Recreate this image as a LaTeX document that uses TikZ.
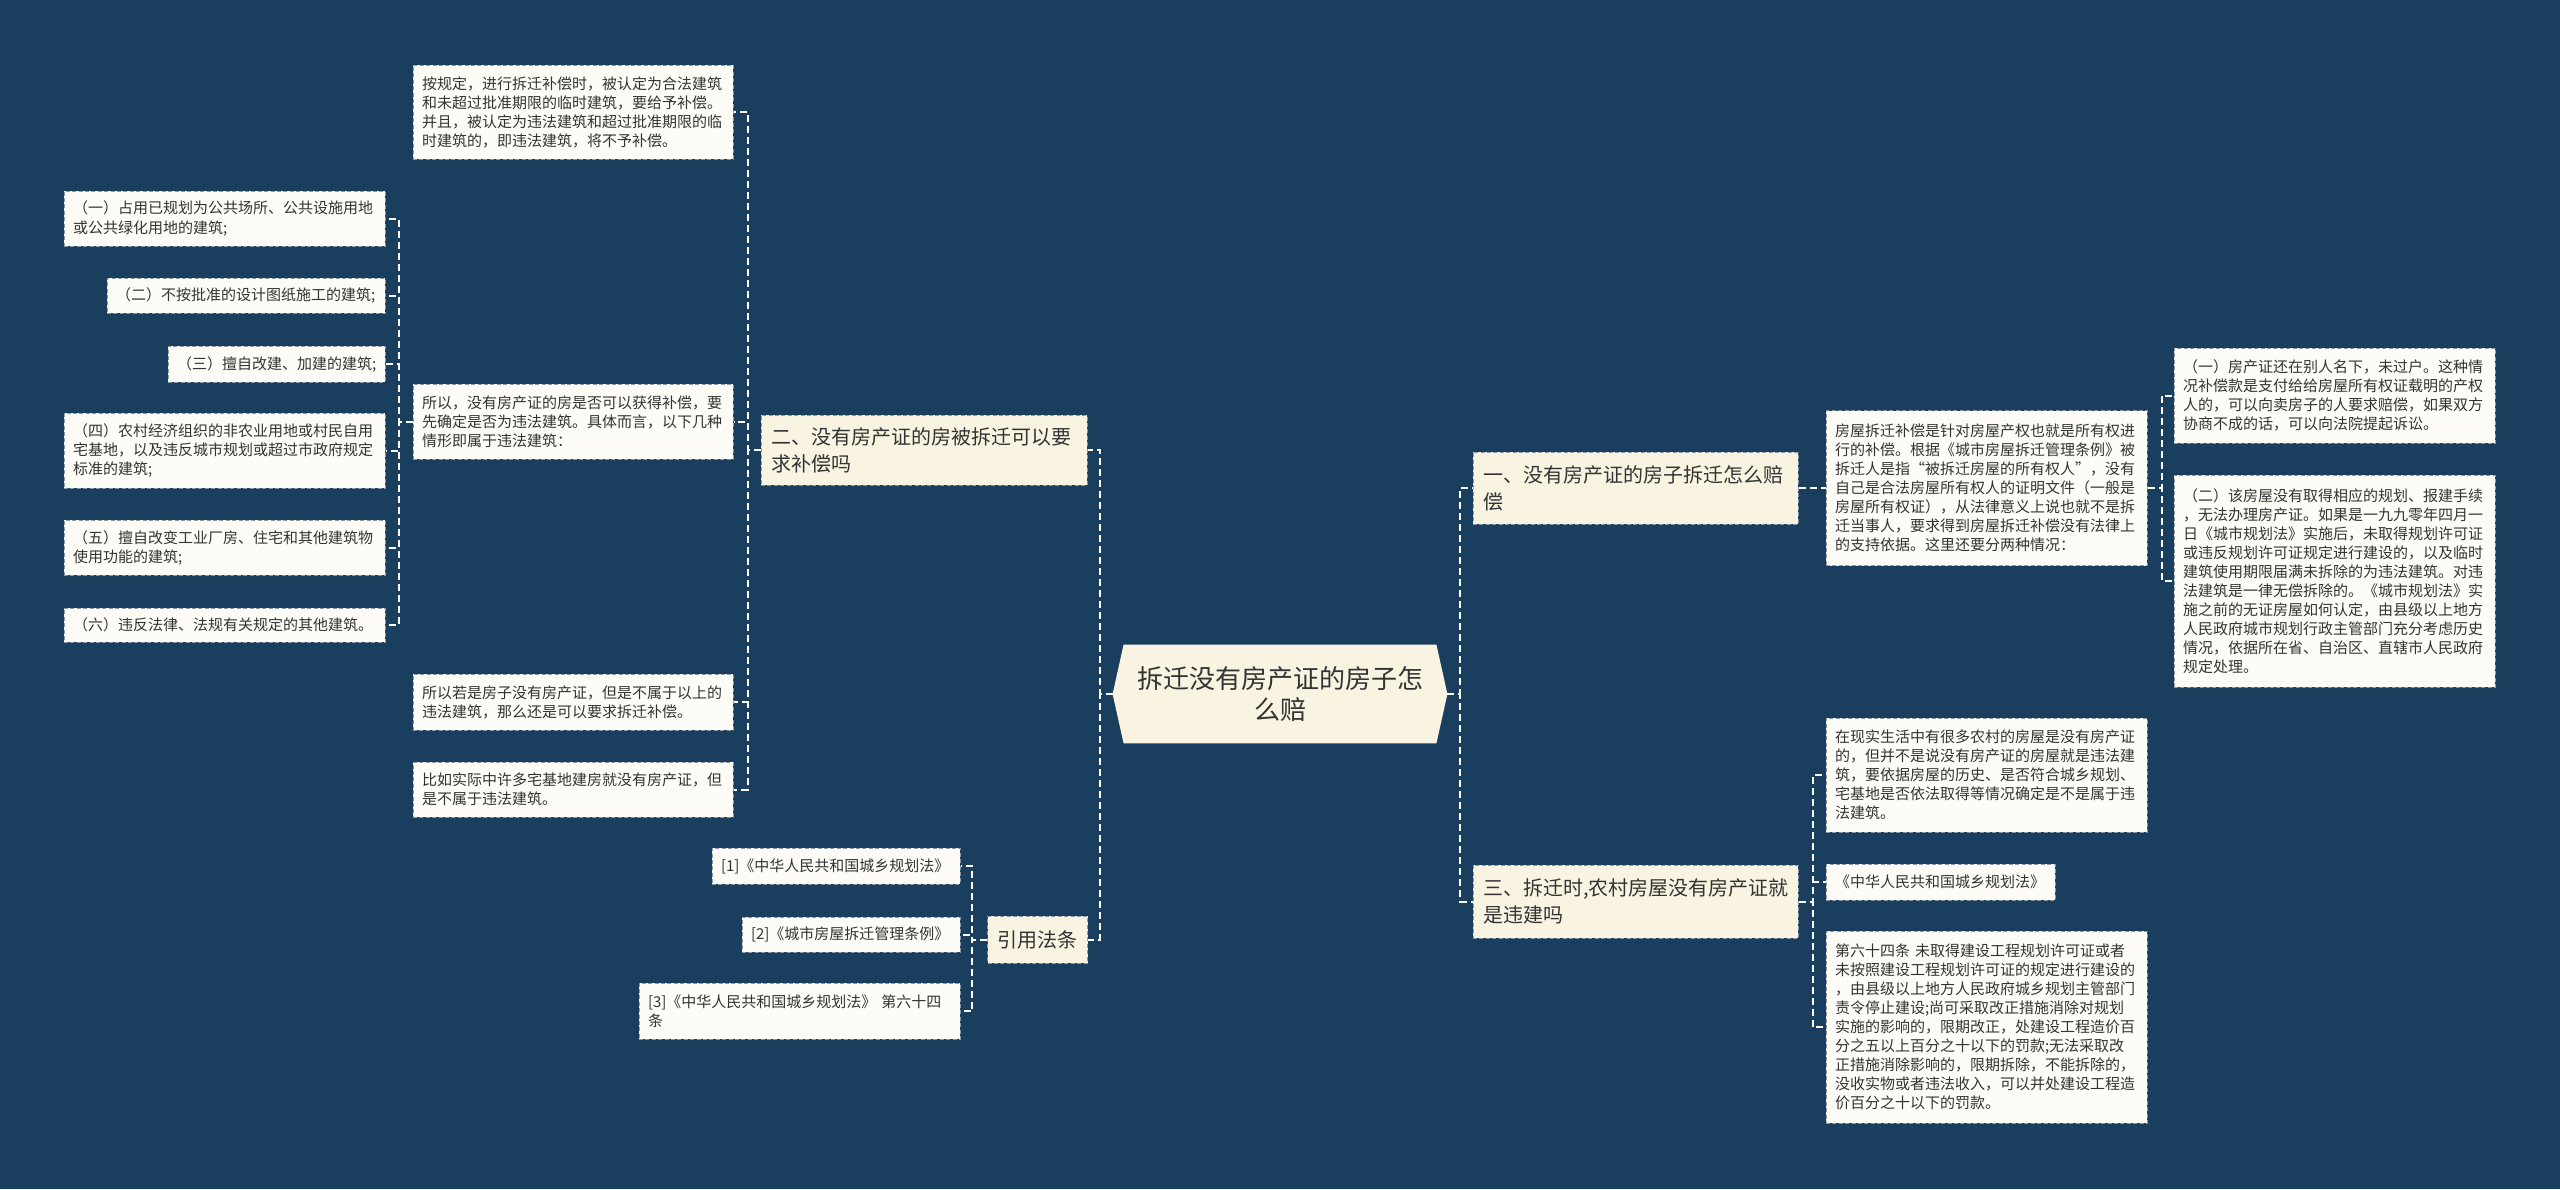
\documentclass[tikz,border=0pt]{standalone}
\usepackage{fontspec}
\setmainfont{Noto Sans CJK SC}
\usetikzlibrary{backgrounds}
\definecolor{bgc}{HTML}{1A3E5E}
\definecolor{leaff}{HTML}{FDFCF6}
\definecolor{branchf}{HTML}{F8F4E1}
\definecolor{txt}{HTML}{333333}
\definecolor{edgec}{HTML}{8C98A6}
\tikzset{
  conn/.style={draw=white, line width=1pt, dash pattern=on 3.5pt off 2pt},
  leaf/.style={fill=leaff, draw=edgec, line width=0.5pt, dash pattern=on 2pt off 1.2pt,
    text=txt, inner xsep=4.5pt, inner ysep=0pt, align=left,
    font=\fontsize{7.5pt}{9.5pt}\selectfont},
  branch/.style={leaf, fill=branchf, inner xsep=5pt, font=\fontsize{10pt}{13.5pt}\selectfont},
}
\begin{document}
\begin{tikzpicture}[x=0.5pt, y=-0.5pt]
\useasboundingbox (0,0) rectangle (2560,1189);
\begin{pgfonlayer}{background}
\fill[bgc] (0,0) rectangle (2560,1189);
\end{pgfonlayer}

% center
\node[text=txt, align=center, minimum width=167pt, minimum height=49pt, inner sep=0pt,
  font=\fontsize{13pt}{15.5pt}\selectfont] (c) at (1280,694) {拆迁没有房产证的房子怎\\么赔};
\begin{pgfonlayer}{background}
\fill[branchf] ([xshift=5.5pt]c.north west) -- ([xshift=-5.5pt]c.north east) -- (c.east)
  -- ([xshift=-5.5pt]c.south east) -- ([xshift=5.5pt]c.south west) -- (c.west) -- cycle;
\end{pgfonlayer}

% left branches
\node[branch, minimum width=163pt, minimum height=35pt, text width=153pt] (b2) at (924,450)
  {二、没有房产证的房被拆迁可以要\\求补偿吗};
\node[branch, minimum width=49.5pt, minimum height=23.5pt, align=center] (b4) at (1037.5,939.5)
  {引用法条};

\node[leaf, minimum width=160pt, minimum height=47pt, text width=151pt] (a1) at (573,112)
  {按规定，进行拆迁补偿时，被认定为合法建筑\\和未超过批准期限的临时建筑，要给予补偿。\\并且，被认定为违法建筑和超过批准期限的临\\时建筑的，即违法建筑，将不予补偿。};
\node[leaf, minimum width=160pt, minimum height=37.5pt, text width=151pt] (a2) at (573,421.5)
  {所以，没有房产证的房是否可以获得补偿，要\\先确定是否为违法建筑。具体而言，以下几种\\情形即属于违法建筑：};
\node[leaf, minimum width=160pt, minimum height=28pt, text width=151pt] (a3) at (573,702)
  {所以若是房子没有房产证，但是不属于以上的\\违法建筑，那么还是可以要求拆迁补偿。};
\node[leaf, minimum width=160pt, minimum height=27.5pt, text width=151pt] (a4) at (573,789.5)
  {比如实际中许多宅基地建房就没有房产证，但\\是不属于违法建筑。};

\node[leaf, minimum width=160.5pt, minimum height=27.5pt, text width=151.5pt] (l1) at (224.5,218.5)
  {（一）占用已规划为公共场所、公共设施用地\\或公共绿化用地的建筑;};
\node[leaf, minimum width=139pt, minimum height=17.5pt, text width=130pt] (l2) at (246,295.5)
  {（二）不按批准的设计图纸施工的建筑;};
\node[leaf, minimum width=108.5pt, minimum height=18pt, text width=99.5pt] (l3) at (276.5,364)
  {（三）擅自改建、加建的建筑;};
\node[leaf, minimum width=160.5pt, minimum height=37.5pt, text width=151.5pt] (l4) at (224.5,450.5)
  {（四）农村经济组织的非农业用地或村民自用\\宅基地，以及违反城市规划或超过市政府规定\\标准的建筑;};
\node[leaf, minimum width=160.5pt, minimum height=27.5pt, text width=151.5pt] (l5) at (224.5,547.5)
  {（五）擅自改变工业厂房、住宅和其他建筑物\\使用功能的建筑;};
\node[leaf, minimum width=160.5pt, minimum height=17pt, text width=151.5pt] (l6) at (224.5,625)
  {（六）违反法律、法规有关规定的其他建筑。};

\node[leaf, minimum width=124pt, minimum height=18pt, text width=115pt] (r1) at (836,866)
  {[1]《中华人民共和国城乡规划法》};
\node[leaf, minimum width=109pt, minimum height=17.5pt, text width=100pt] (r2) at (851,934.5)
  {[2]《城市房屋拆迁管理条例》};
\node[leaf, minimum width=160.5pt, minimum height=28pt, text width=151.5pt] (r3) at (799.5,1011)
  {[3]《中华人民共和国城乡规划法》 第六十四\\条};

% right branches
\node[branch, minimum width=162.5pt, minimum height=36pt, text width=152.5pt] (b1) at (1635.5,488)
  {一、没有房产证的房子拆迁怎么赔\\偿};
\node[branch, minimum width=162.5pt, minimum height=36.5pt, text width=152.5pt] (b3) at (1635.5,901.5)
  {三、拆迁时,农村房屋没有房产证就\\是违建吗};

\node[leaf, minimum width=160.5pt, minimum height=77.5pt, text width=151.5pt] (d1) at (1986.5,488)
  {房屋拆迁补偿是针对房屋产权也就是所有权进\\行的补偿。根据《城市房屋拆迁管理条例》被\\拆迁人是指“被拆迁房屋的所有权人”，没有\\自己是合法房屋所有权人的证明文件（一般是\\房屋所有权证），从法律意义上说也就不是拆\\迁当事人，要求得到房屋拆迁补偿没有法律上\\的支持依据。这里还要分两种情况：};
\node[leaf, minimum width=160.5pt, minimum height=47.5pt, text width=151.5pt] (e1) at (2334.5,395.5)
  {（一）房产证还在别人名下，未过户。这种情\\况补偿款是支付给给房屋所有权证载明的产权\\人的，可以向卖房子的人要求赔偿，如果双方\\协商不成的话，可以向法院提起诉讼。};
\node[leaf, minimum width=160.5pt, minimum height=106pt, text width=151.5pt] (e2) at (2334.5,581)
  {（二）该房屋没有取得相应的规划、报建手续\\，无法办理房产证。如果是一九九零年四月一\\日《城市规划法》实施后，未取得规划许可证\\或违反规划许可证规定进行建设的，以及临时\\建筑使用期限届满未拆除的为违法建筑。对违\\法建筑是一律无偿拆除的。《城市规划法》实\\施之前的无证房屋如何认定，由县级以上地方\\人民政府城市规划行政主管部门充分考虑历史\\情况，依据所在省、自治区、直辖市人民政府\\规定处理。};

\node[leaf, minimum width=160.5pt, minimum height=57pt, text width=151.5pt] (f1) at (1986.5,775)
  {在现实生活中有很多农村的房屋是没有房产证\\的，但并不是说没有房产证的房屋就是违法建\\筑，要依据房屋的历史、是否符合城乡规划、\\宅基地是否依法取得等情况确定是不是属于违\\法建筑。};
\node[leaf, minimum width=114.5pt, minimum height=18pt, text width=105.5pt] (f2) at (1940.5,882)
  {《中华人民共和国城乡规划法》};
\node[leaf, minimum width=160.5pt, minimum height=96pt, text width=151.5pt] (f3) at (1986.5,1027)
  {第六十四条 未取得建设工程规划许可证或者\\未按照建设工程规划许可证的规定进行建设的\\，由县级以上地方人民政府城乡规划主管部门\\责令停止建设;尚可采取改正措施消除对规划\\实施的影响的，限期改正，处建设工程造价百\\分之五以上百分之十以下的罚款;无法采取改\\正措施消除影响的，限期拆除，不能拆除的，\\没收实物或者违法收入，可以并处建设工程造\\价百分之十以下的罚款。};

% connectors
\draw[conn] (c.west) -- ++(-13,0) |- (b2.east);
\draw[conn] (c.west) -- ++(-13,0) |- (b4.east);
\draw[conn] (c.east) -- ++(13,0) |- (b1.west);
\draw[conn] (c.east) -- ++(13,0) |- (b3.west);

\foreach \ch in {a1,a2,a3,a4} \draw[conn] (b2.west) -- ++(-13,0) |- (\ch.east);
\foreach \ch in {l1,l2,l3,l4,l5,l6} \draw[conn] (a2.west) -- ++(-14,0) |- (\ch.east);
\foreach \ch in {r1,r2,r3} \draw[conn] (b4.west) -- ++(-15,0) |- (\ch.east);

\draw[conn] (b1.east) -- (d1.west);
\foreach \ch in {e1,e2} \draw[conn] (d1.east) -- ++(14,0) |- (\ch.west);
\foreach \ch in {f1,f2,f3} \draw[conn] (b3.east) -- ++(14,0) |- (\ch.west);
\end{tikzpicture}
\end{document}
